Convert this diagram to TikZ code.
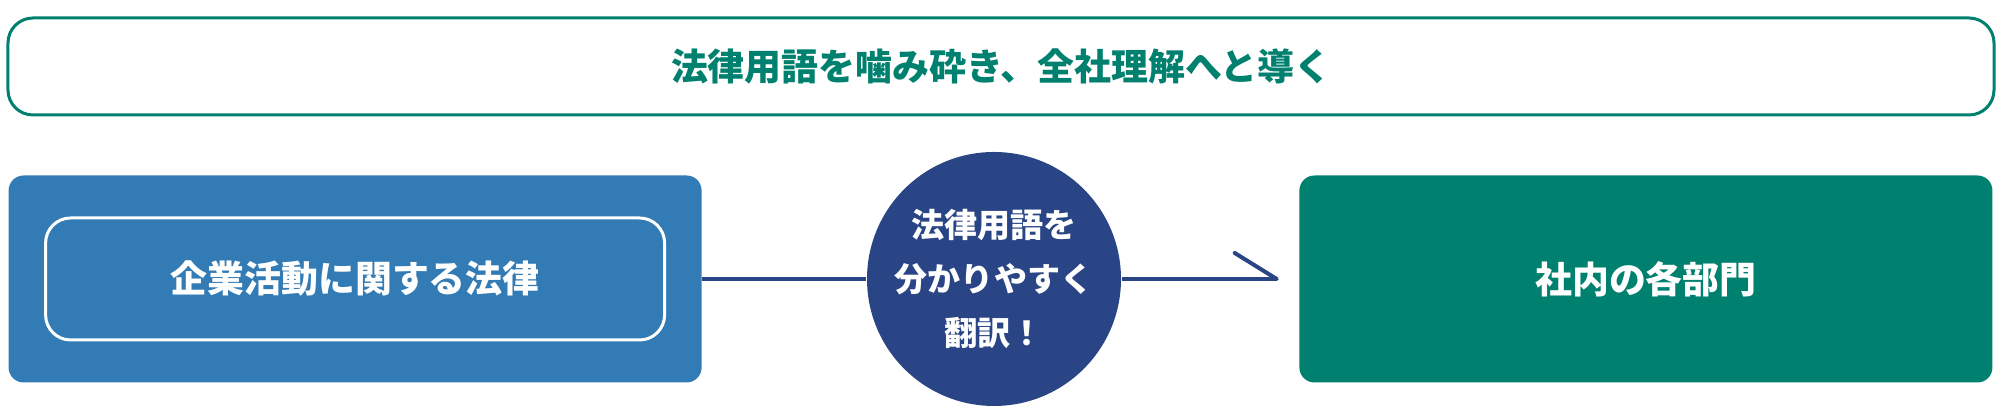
\documentclass[tikz,border=0pt]{standalone}
\usepackage{fontspec}
\newfontfamily\jpfont{Noto Sans CJK JP}
\usetikzlibrary{arrows.meta,positioning}
\definecolor{lawgreen}{RGB}{0,128,110}
\definecolor{lawblue}{RGB}{51,123,180}
\definecolor{lawnavy}{RGB}{41,69,134}
\tikzset{
    %Define style for the heading box
    topbox/.style={
           rectangle,
           rounded corners=0.25cm,
           draw=lawgreen, line width=0.03cm,
           minimum width=19.86cm,
           minimum height=0.97cm,
           text=lawgreen,
           font=\jpfont\bfseries\fontsize{10.5}{12}\selectfont},
    %Define style for the coloured boxes
    punktrect/.style={
           rectangle,
           rounded corners=0.15cm,
           minimum width=6.93cm,
           minimum height=2.07cm,
           text=white,
           font=\jpfont\bfseries\fontsize{10.5}{12}\selectfont},
    innerrect/.style={
           rectangle,
           rounded corners=0.25cm,
           draw=white, line width=0.03cm,
           minimum width=6.19cm,
           minimum height=1.22cm,
           text=white,
           font=\jpfont\bfseries\fontsize{10.5}{12}\selectfont},
    punkt/.style={
           circle,
           fill=lawnavy,
           inner sep=0pt,
           minimum size=2.54cm,
           align=center,
           text=white,
           font=\jpfont\bfseries\fontsize{9.4}{15.4}\selectfont},
    % Define arrow style
    pil/.style={
           draw=lawnavy,
           line width=0.04cm}
}
\begin{document}
\begin{tikzpicture}
\useasboundingbox (0,0) rectangle (20,-4.2);
 %nodes
\node[topbox](head) at (10.01,-0.665){法律用語を噛み砕き、全社理解へと導く};
\node[punkt](trans) at (9.94,-2.79){法律用語を\\分かりやすく\\翻訳！};
\node[punktrect, fill=lawblue, left=1.64cm of trans](law){};
\node[innerrect](lawin) at (law.center){企業活動に関する法律};
\node[punktrect, fill=lawgreen, right=1.77cm of trans](dept){社内の各部門};
 %connectors
\draw[pil] (law.east) -- (trans.west);
\draw[pil, -{Straight Barb[harpoon, round, length=0.42cm, width=0.52cm]}, shorten >=0.2cm] (trans.east) -- (dept.west);
\end{tikzpicture}
\end{document}
